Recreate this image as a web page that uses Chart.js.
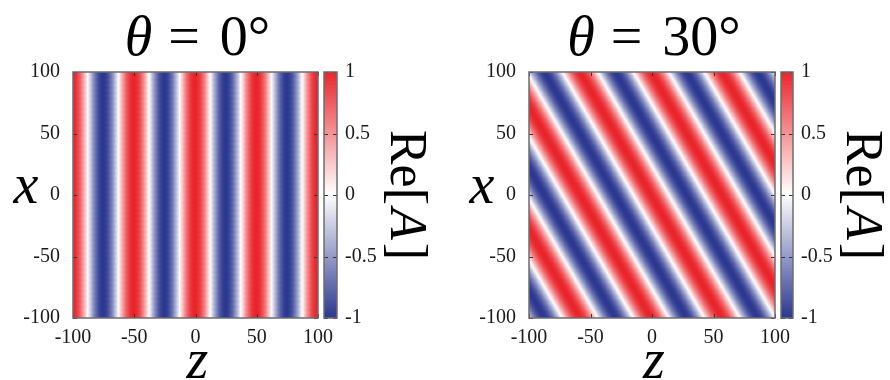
<!DOCTYPE html>
<html>
<head>
<meta charset="utf-8">
<script src="https://cdn.jsdelivr.net/npm/chart.js@4.4.1/dist/chart.umd.min.js"></script>
<style>
  body { margin: 0; background: #fff; }
  #wrap { position: relative; width: 890px; height: 380px; }
  canvas { position: absolute; top: 0; }
</style>
</head>
<body>
<div id="wrap">
  <canvas id="map0" width="340" height="380" style="left:0"></canvas>
  <canvas id="bar0" width="127" height="380" style="left:318px"></canvas>
  <canvas id="map1" width="350" height="380" style="left:445px"></canvas>
  <canvas id="bar1" width="112" height="380" style="left:778px"></canvas>
</div>
<script>
// Re[A] of a plane wave travelling at angle theta in the (z, x) plane
const thetaDeg = [0, 30];
const titleValues = ['0°', '30°'];
const wavelength = 50;
const zTicks = [-100, -50, 0, 50, 100];
const zTickLabels = ['-100', '-50', '0', '50', '100'];
const xTicks = [-100, -50, 0, 50, 100];
const xTickLabels = ['-100', '-50', '0', '50', '100'];
const cbTicks = [-1, -0.5, 0, 0.5, 1];
const cbTickLabels = ['-1', '-0.5', '0', '0.5', '1'];
const gridStep = 1;      // cell size in z / x units
const cbSlices = 100;    // number of colour bands in the colour bar

const RED = [233, 37, 43];
const BLUE = [45, 57, 145];
const SERIF = '"Liberation Serif", "Times New Roman", serif';

function colorFor(v) {
  const end = v >= 0 ? RED : BLUE;
  const t = Math.min(1, Math.abs(v));
  const c = end.map(ch => Math.round(255 + (ch - 255) * t));
  return `rgb(${c[0]},${c[1]},${c[2]})`;
}

function buildField(theta) {
  const th = theta * Math.PI / 180;
  const k = 2 * Math.PI / wavelength;
  const pts = [], cols = [];
  for (let x = -100 + gridStep / 2; x < 100; x += gridStep) {
    for (let z = -100 + gridStep / 2; z < 100; z += gridStep) {
      const v = Math.cos(k * (z * Math.cos(th) + x * Math.sin(th)));
      pts.push({ x: z, y: x });
      cols.push(colorFor(v));
    }
  }
  return { pts, cols };
}

// text made of upright / italic pieces, e.g. "θ = 0°"
function drawRuns(ctx, runs, x, y, align) {
  const widths = runs.map(r => {
    ctx.font = (r.it ? 'italic ' : '') + r.size + 'px ' + SERIF;
    return ctx.measureText(r.t).width + (r.gap || 0);
  });
  const total = widths.reduce((a, b) => a + b, 0);
  let cx = align === 'center' ? x - total / 2 : x;
  runs.forEach((r, i) => {
    ctx.font = (r.it ? 'italic ' : '') + r.size + 'px ' + SERIF;
    ctx.fillText(r.t, cx, y);
    cx += widths[i];
  });
}

const framePlugin = {
  id: 'frame',
  afterDatasetsDraw(chart, args, opts) {
    const { ctx, chartArea: a, scales } = chart;
    ctx.save();
    ctx.strokeStyle = '#333';
    ctx.lineWidth = 1;
    ctx.beginPath();
    (opts.xTicks || []).forEach(v => {
      const p = Math.round(scales.x.getPixelForValue(v)) + 0.5;
      ctx.moveTo(p, a.top); ctx.lineTo(p, a.top + 4);
      ctx.moveTo(p, a.bottom); ctx.lineTo(p, a.bottom - 4);
    });
    (opts.yTicks || []).forEach(v => {
      const p = Math.round(scales.y.getPixelForValue(v)) + 0.5;
      ctx.moveTo(a.left, p); ctx.lineTo(a.left + 4, p);
      ctx.moveTo(a.right, p); ctx.lineTo(a.right - 4, p);
    });
    ctx.stroke();
    ctx.strokeStyle = '#6e6e6e';
    ctx.lineWidth = 1.5;
    ctx.strokeRect(a.left, a.top, a.right - a.left, a.bottom - a.top);
    ctx.restore();
  },
  afterDraw(chart, args, opts) {
    const { ctx, chartArea: a } = chart;
    ctx.save();
    ctx.fillStyle = '#000';
    ctx.textBaseline = 'alphabetic';
    const midX = (a.left + a.right) / 2, midY = (a.top + a.bottom) / 2;
    if (opts.title) {
      drawRuns(ctx, [
        { t: 'θ', it: true, size: 56, gap: 16 },
        { t: '=', size: 56, gap: 20 },
        { t: opts.title, size: 56 }
      ], midX + 2, 55, 'center');
      drawRuns(ctx, [{ t: 'x', it: true, size: 56 }], a.left - 47, midY + 8, 'center');
      drawRuns(ctx, [{ t: 'z', it: true, size: 56 }], midX + 2, a.bottom + 60, 'center');
    }
    if (opts.cbLabel) {
      ctx.translate(a.right + 54, midY);
      ctx.rotate(Math.PI / 2);
      drawRuns(ctx, [
        { t: 'Re[', size: 52, gap: 3 },
        { t: 'A', it: true, size: 52, gap: 3 },
        { t: ']', size: 52 }
      ], 0, 0, 'center');
    }
    ctx.restore();
  }
};

const tickFont = { family: SERIF, size: 20 };

function fixWidth(w) {
  return s => { s.width = w; s.paddingTop = 0; s.paddingBottom = 0; };
}
function fixHeight(h) {
  return s => { s.height = h; s.paddingLeft = 0; s.paddingRight = 0; };
}

const panels = [
  { map: 'map0', bar: 'bar0', mapPad: { left: 0, right: 22 }, yWidth: 73, barPad: { left: 6, right: 48 } },
  { map: 'map1', bar: 'bar1', mapPad: { left: 0, right: 20 }, yWidth: 84, barPad: { left: 3, right: 37 } }
];

panels.forEach((p, i) => {
  const field = buildField(thetaDeg[i]);

  new Chart(document.getElementById(p.map), {
    type: 'scatter',
    data: {
      datasets: [{
        data: field.pts,
        pointStyle: 'rect',
        pointRadius: 1.8,
        pointBorderWidth: 0,
        pointBackgroundColor: field.cols,
        clip: 0
      }]
    },
    options: {
      responsive: false,
      devicePixelRatio: 1,
      animation: false,
      events: [],
      layout: { padding: { top: 72, bottom: 22, left: p.mapPad.left, right: p.mapPad.right } },
      scales: {
        x: {
          type: 'linear', min: -100, max: 100,
          afterBuildTicks: s => { s.ticks = zTicks.map(v => ({ value: v })); },
          afterFit: fixHeight(40),
          grid: { display: false, drawTicks: false },
          border: { display: false },
          ticks: {
            font: tickFont, color: '#1a1a1a', padding: 8, maxRotation: 0, autoSkip: false,
            callback: v => zTickLabels[zTicks.indexOf(v)]
          }
        },
        y: {
          type: 'linear', min: -100, max: 100,
          afterBuildTicks: s => { s.ticks = xTicks.map(v => ({ value: v })); },
          afterFit: fixWidth(p.yWidth),
          grid: { display: false, drawTicks: false },
          border: { display: false },
          ticks: {
            font: tickFont, color: '#1a1a1a', padding: 13, autoSkip: false,
            callback: v => xTickLabels[xTicks.indexOf(v)]
          }
        }
      },
      plugins: {
        legend: { display: false },
        tooltip: { enabled: false },
        frame: { xTicks: zTicks, yTicks: xTicks, title: titleValues[i] }
      }
    },
    plugins: [framePlugin]
  });

  // colour bar: floating bands from -1 to 1 laid over each other
  const bands = [];
  for (let j = 0; j < cbSlices; j++) {
    const lo = -1 + 2 * j / cbSlices;
    const hi = lo + 2 / cbSlices;
    bands.push({
      data: [[lo, hi + 0.004]],
      backgroundColor: colorFor((lo + hi) / 2),
      borderWidth: 0,
      grouped: false,
      barPercentage: 1,
      categoryPercentage: 1
    });
  }

  new Chart(document.getElementById(p.bar), {
    type: 'bar',
    data: { labels: [''], datasets: bands },
    options: {
      responsive: false,
      devicePixelRatio: 1,
      animation: false,
      events: [],
      layout: { padding: { top: 72, bottom: 62, left: p.barPad.left, right: p.barPad.right } },
      scales: {
        x: { type: 'category', display: false },
        y: {
          type: 'linear', position: 'right', min: -1, max: 1,
          afterBuildTicks: s => { s.ticks = cbTicks.map(v => ({ value: v })); },
          afterFit: fixWidth(60),
          grid: { display: false, drawTicks: false },
          border: { display: false },
          ticks: {
            font: tickFont, color: '#1a1a1a', padding: 8, autoSkip: false,
            callback: v => cbTickLabels[cbTicks.indexOf(v)]
          }
        }
      },
      plugins: {
        legend: { display: false },
        tooltip: { enabled: false },
        frame: { yTicks: cbTicks, cbLabel: true }
      }
    },
    plugins: [framePlugin]
  });
});
</script>
</body>
</html>
